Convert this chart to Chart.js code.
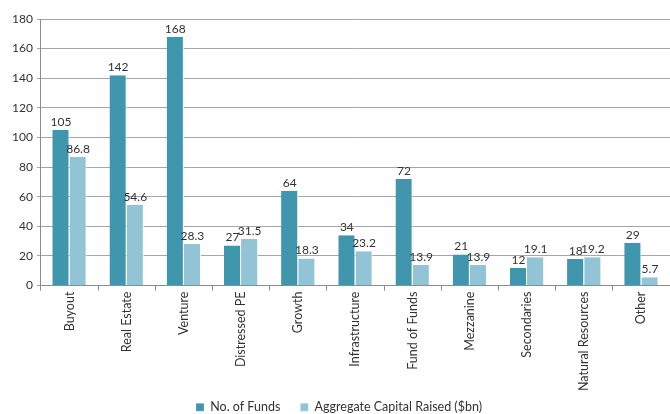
<!DOCTYPE html>
<html lang="en">
<head>
    <meta charset="UTF-8">
    <title>Funds by Strategy</title>
    <script src="https://cdn.jsdelivr.net/npm/chart.js"></script>
    <style>
        html, body { margin: 0; padding: 0; background: #fff; }
        .wrap { width: 670px; height: 414px; }
    </style>
</head>
<body>
    <div class="wrap"><canvas id="fundsChart" width="670" height="414"></canvas></div>

    <script>
        const categories = ["Buyout", "Real Estate", "Venture", "Distressed PE", "Growth", "Infrastructure",
            "Fund of Funds", "Mezzanine", "Secondaries", "Natural Resources", "Other"];
        const noOfFunds = [105, 142, 168, 27, 64, 34, 72, 21, 12, 18, 29];
        const capitalRaised = [86.8, 54.6, 28.3, 31.5, 18.3, 23.2, 13.9, 13.9, 19.1, 19.2, 5.7];
        const yTicks = [0, 20, 40, 60, 80, 100, 120, 140, 160, 180];

        const fontFamily = "Lato, 'Liberation Sans', sans-serif";

        // draws the value above each bar
        const barLabels = {
            id: "barLabels",
            afterDatasetsDraw(chart) {
                const ctx = chart.ctx;
                ctx.save();
                ctx.font = "12px " + fontFamily;
                ctx.fillStyle = "#333";
                ctx.textAlign = "center";
                ctx.textBaseline = "bottom";
                chart.data.datasets.forEach((ds, i) => {
                    chart.getDatasetMeta(i).data.forEach((bar, j) => {
                        ctx.fillText(String(ds.data[j]), bar.x, bar.y - 2);
                    });
                });
                ctx.restore();
            }
        };

        // keep the legend strip short so the plot gets the room,
        // then place its row near the bottom edge (legend clips to its box)
        const legendFit = {
            id: "legendFit",
            beforeInit(chart) {
                const fit = chart.legend.fit;
                chart.legend.fit = function () {
                    fit.call(this);
                    this.height = 22;
                };
            },
            beforeDraw(chart) {
                const lg = chart.legend;
                lg.top = 401 - lg.options.labels.padding;
                lg.bottom = chart.height;
                lg.height = lg.bottom - lg.top;
            }
        };

        new Chart(document.getElementById("fundsChart"), {
            type: "bar",
            data: {
                labels: categories,
                datasets: [{
                    label: "No. of Funds",
                    data: noOfFunds,
                    backgroundColor: "#3f96ad",
                    borderColor: "#ffffff",
                    borderWidth: { left: 0, right: 1, top: 0, bottom: 0 },
                    categoryPercentage: 0.6,
                    barPercentage: 1.0
                }, {
                    label: "Aggregate Capital Raised ($bn)",
                    data: capitalRaised,
                    backgroundColor: "#93c4d6",
                    borderColor: "#ffffff",
                    borderWidth: { left: 0, right: 1, top: 0, bottom: 0 },
                    categoryPercentage: 0.6,
                    barPercentage: 1.0
                }]
            },
            options: {
                responsive: false,
                animation: false,
                layout: { padding: { top: 19, right: 0, left: 8, bottom: 0 } },
                scales: {
                    x: {
                        grid: { offset: true, drawOnChartArea: false, color: "#8c8c8c", tickLength: 5 },
                        border: { color: "#8c8c8c" },
                        ticks: {
                            color: "#333",
                            font: { family: fontFamily, size: 12.5 },
                            maxRotation: 90,
                            minRotation: 90,
                            padding: 1
                        }
                    },
                    y: {
                        min: 0,
                        max: 180,
                        afterBuildTicks: axis => { axis.ticks = yTicks.map(v => ({ value: v })); },
                        grid: { color: "#a6a6a6", tickLength: 4 },
                        border: { color: "#8c8c8c" },
                        ticks: {
                            color: "#333",
                            font: { family: fontFamily, size: 12 },
                            padding: 4
                        }
                    }
                },
                plugins: {
                    legend: {
                        position: "bottom",
                        labels: {
                            color: "#333",
                            font: { family: fontFamily, size: 12.5 },
                            boxWidth: 8,
                            boxHeight: 8,
                            padding: 20
                        }
                    },
                    tooltip: { enabled: false }
                }
            },
            plugins: [barLabels, legendFit]
        });
    </script>
</body>
</html>
